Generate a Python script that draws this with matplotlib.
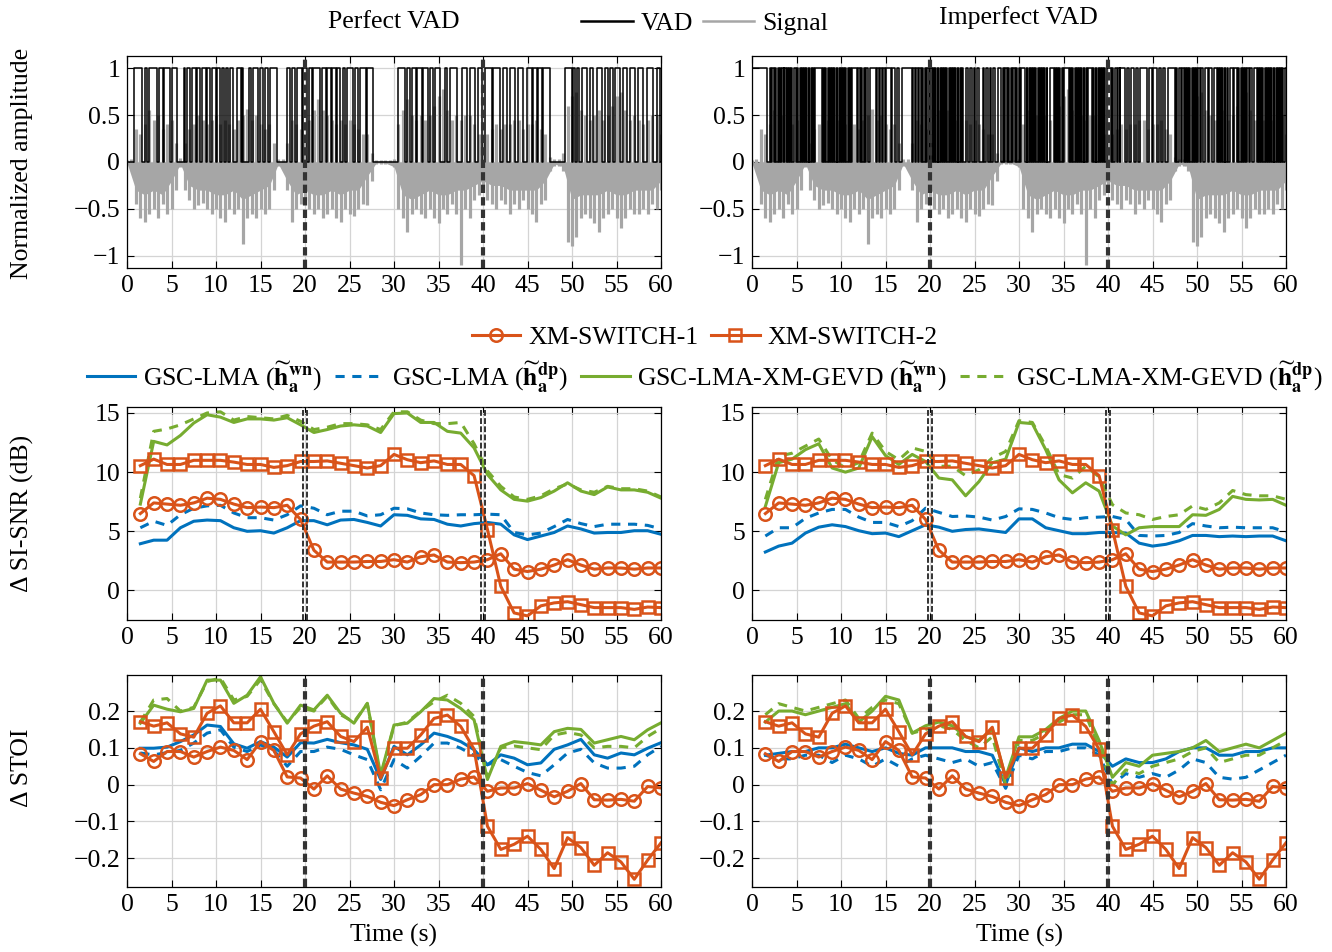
import numpy as np
import matplotlib
matplotlib.use("Agg")
import matplotlib.pyplot as plt
from matplotlib.lines import Line2D

plt.rcParams['font.family'] = ['Liberation Serif', 'DejaVu Serif']
plt.rcParams['mathtext.fontset'] = 'stix'
plt.rcParams['font.size'] = 18.5
plt.rcParams['axes.unicode_minus'] = True
FS = 18.5

# ---------------- data ----------------
# signal envelope every 0.5 s (0..60 s)
sig_neg = [-0.02, -0.03, -0.45, -0.6, -0.64, -0.55, -0.5, -0.6, -0.45, -0.55,
           -0.5, -0.3, -0.05, -0.3, -0.4, -0.5, -0.46, -0.44, -0.5, -0.55,
           -0.5, -0.6, -0.64, -0.5, -0.55, -0.5, -0.87, -0.6, -0.55, -0.6,
           -0.5, -0.55, -0.5, -0.3, -0.04, -0.04, -0.3, -0.64, -0.5, -0.45,
           -0.4, -0.5, -0.55, -0.5, -0.6, -0.55, -0.5, -0.6, -0.64, -0.5,
           -0.55, -0.58, -0.5, -0.45, -0.46, -0.2, -0.02, -0.02, -0.02, -0.02,
           -0.05, -0.5, -0.6, -0.75, -0.55, -0.5, -0.55, -0.6, -0.5, -0.6,
           -0.65, -0.5, -0.55, -0.45, -0.55, -1.1, -0.5, -0.6, -0.4, -0.35,
           -0.3, -0.4, -0.45, -0.5, -0.4, -0.45, -0.55, -0.45, -0.5, -0.4,
           -0.5, -0.55, -0.64, -0.45, -0.4, -0.1, -0.04, -0.04, -0.1, -0.85,
           -0.9, -0.8, -0.6, -0.55, -0.6, -0.65, -0.75, -0.6, -0.55, -0.5,
           -0.6, -0.7, -0.6, -0.5, -0.55, -0.55, -0.5, -0.55, -0.45, -0.5, -0.3]
sig_pos = [0.02, 0.03, 0.35, 0.3, 0.4, 0.55, 0.45, 0.5, 0.35, 0.4,
           0.45, 0.2, 0.04, 0.2, 0.35, 0.4, 0.5, 0.45, 0.4, 0.45,
           0.5, 0.4, 0.45, 0.4, 0.35, 0.45, 0.5, 0.56, 0.45, 0.5,
           0.4, 0.35, 0.4, 0.2, 0.03, 0.03, 0.2, 0.45, 0.4, 0.35,
           0.3, 0.45, 0.55, 0.67, 0.55, 0.5, 0.45, 0.4, 0.45, 0.4,
           0.45, 0.4, 0.35, 0.3, 0.3, 0.1, 0.02, 0.02, 0.02, 0.02,
           0.03, 0.4, 0.55, 0.67, 0.5, 0.45, 0.5, 0.45, 0.5, 0.6,
           0.7, 0.78, 0.55, 0.45, 0.5, 0.45, 0.5, 0.5, 0.4, 0.3,
           0.25, 0.3, 0.35, 0.4, 0.35, 0.4, 0.4, 0.45, 0.45, 0.35,
           0.4, 0.4, 0.45, 0.35, 0.3, 0.05, 0.03, 0.03, 0.1, 0.6,
           0.7, 0.75, 0.55, 0.5, 0.45, 0.5, 0.55, 0.45, 0.5, 0.6,
           0.7, 0.75, 0.55, 0.45, 0.5, 0.45, 0.4, 0.45, 0.5, 0.5, 0.3]
# dense part of the waveform every 1 s (0..60 s)
sig_body_neg = [-0.01, -0.3, -0.35, -0.3, -0.35, -0.2, -0.02, -0.25, -0.3, -0.3,
                -0.35, -0.35, -0.3, -0.4, -0.35, -0.3, -0.25, -0.02, -0.2, -0.35,
                -0.3, -0.35, -0.35, -0.3, -0.35, -0.3, -0.3, -0.15, -0.01, -0.01,
                -0.05, -0.35, -0.4, -0.35, -0.3, -0.35, -0.35, -0.3, -0.3, -0.25,
                -0.2, -0.25, -0.25, -0.3, -0.3, -0.3, -0.3, -0.2, -0.02, -0.05,
                -0.4, -0.35, -0.35, -0.35, -0.3, -0.35, -0.35, -0.3, -0.3, -0.3, -0.2]
sig_t = np.arange(len(sig_neg)) * 0.5
body_t = np.arange(len(sig_body_neg)) * 1.0

# VAD switching times (s), first entry switches on
vad_perfect = [0.78, 1.64, 2.02, 2.21, 2.51, 3.40, 3.63, 4.0, 4.15, 4.83, 5.02, 5.58,
               6.4, 6.55, 6.7, 7.08, 7.26, 7.75, 7.9, 8.2, 8.39, 8.87, 9.02, 9.32,
               9.51, 9.99, 10.14, 10.45, 10.63, 10.9, 11.12, 11.38, 11.57, 11.94,
               12.32, 12.77, 12.88, 13.07, 13.74, 13.89, 14.12, 14.75, 14.94, 15.31,
               15.5, 15.88, 16.06, 16.81, 17.94, 18.31, 18.5, 18.87, 19.06, 19.62,
               19.81, 20.26, 20.48, 20.75, 20.93, 21.68, 21.87, 22.36, 22.51, 22.88,
               23.07, 23.48, 23.63, 23.93, 24.23, 24.49, 24.68, 25.43, 25.61, 25.99,
               26.18, 26.85, 27.0, 27.67,
               30.4, 31.24, 31.42, 31.8, 31.98, 32.47, 32.62, 33.11, 33.3, 33.86,
               34.04, 34.34, 34.61, 35.17, 35.73, 35.92, 36.29, 37.04, 37.6, 38.24,
               38.54, 39.1, 39.48, 39.85, 40.22, 40.97, 41.16, 41.91, 42.28, 42.66,
               43.03, 43.6, 43.97, 44.53, 44.91, 45.47, 45.65, 46.03, 46.22, 46.59,
               46.78, 47.53, 49.21, 49.96, 50.15, 50.34, 50.52, 50.82, 51.08, 51.65,
               52.02, 52.4, 52.77, 53.33, 53.71, 54.08, 54.27, 54.57, 54.83, 55.39,
               55.77, 56.14, 56.52, 57.08, 57.45, 58.02, 58.39, 59.14, 59.51, 59.89]
vad_imperfect = [0.0, 1.65,
                 2.0, 2.15, 2.3, 2.5, 2.6, 2.75, 2.9, 3.05, 3.15, 3.3, 3.4, 3.55, 3.65,
                 3.8, 3.9, 4.05, 4.15, 4.3, 4.4, 4.5, 4.75, 4.9, 5.05,
                 5.2, 5.35, 5.45, 5.6, 5.7, 5.85, 5.95, 6.1, 6.2, 6.35, 6.45, 6.6,
                 6.7, 6.85, 6.95, 7.1,
                 7.85, 8.0, 8.1, 8.25, 8.35, 8.5, 8.6, 8.75, 8.85, 9.0, 9.1, 9.25,
                 9.35, 9.5, 9.6, 9.75, 9.85, 10.0, 10.1, 10.25, 10.35, 10.5, 10.6, 10.75,
                 10.85, 11.0, 11.1, 11.2,
                 11.75, 11.9, 12.1, 12.25, 12.4, 12.55, 12.7, 12.85, 13.0, 13.3,
                 13.9, 14.1, 14.25, 14.4, 14.6, 14.75, 14.9, 15.05,
                 15.6, 15.75, 16.1, 16.25, 16.5, 16.8,
                 17.95, 18.1, 18.3, 18.45, 18.6, 18.75,
                 19.0, 19.1, 19.25, 19.4, 19.55, 19.7, 19.85, 20.0,
                 20.2, 20.35, 20.45, 20.6, 20.7, 20.85, 20.95, 21.1, 21.2, 21.35,
                 21.45, 21.6, 21.7, 21.85, 21.95, 22.1, 22.2, 22.35, 22.45, 22.6,
                 22.7, 22.85, 22.95, 23.1, 23.2, 23.35, 23.45, 23.6, 23.7, 24.0,
                 24.3, 24.5, 24.7, 24.9, 25.1, 25.3, 25.5, 25.9,
                 26.1, 26.3, 26.5, 26.7, 26.9, 27.1, 27.3, 27.6,
                 28.0, 28.15, 28.3, 28.45, 28.6, 28.75, 28.9, 29.05, 29.2, 29.35, 29.5,
                 29.65, 29.8, 29.95, 30.1, 30.25,
                 30.7, 30.85, 30.95, 31.1, 31.2, 31.35, 31.45, 31.6, 31.7, 31.85,
                 31.95, 32.1, 32.2, 32.35, 32.45, 32.6, 32.7, 32.85, 32.95, 33.1,
                 33.2, 33.5,
                 33.9, 34.05, 34.15, 34.3, 34.4, 34.55, 34.65, 34.8, 34.9, 35.05,
                 35.6, 35.75, 35.85, 36.0, 36.1, 36.25, 36.35, 36.5, 36.6, 36.75,
                 36.85, 37.0, 37.1, 37.25, 37.35, 37.5, 37.6, 37.75,
                 38.2, 38.35, 38.45, 38.6, 38.7, 38.85, 38.95, 39.1, 39.2, 39.35,
                 39.45, 39.6, 39.7, 39.9,
                 40.3, 40.45, 40.6, 40.8, 41.0, 41.15, 41.3, 41.4, 41.9, 42.1, 42.4, 42.6,
                 42.9, 43.1, 43.4, 43.6, 44.4, 44.6, 44.9, 45.1, 45.5, 45.7, 46.0, 46.2,
                 46.4, 46.7,
                 47.5, 47.65, 47.8, 48.0, 48.2, 48.35, 48.5, 48.65, 48.75, 48.9,
                 49.0, 49.15, 49.25, 49.4, 49.5, 49.65, 49.75, 49.9, 50.0, 50.15,
                 50.3, 50.5, 50.7, 50.9, 51.2, 51.4, 51.7, 51.9,
                 52.2, 52.35, 52.45, 52.6, 52.7, 52.85, 52.95, 53.1, 53.2, 53.35,
                 53.5, 53.7, 54.0, 54.2,
                 54.5, 54.65, 54.75, 54.9, 55.0, 55.15, 55.25, 55.4, 55.5, 55.65,
                 55.8, 56.0, 56.2, 56.4,
                 56.7, 56.85, 56.95, 57.1, 57.2, 57.35, 57.45, 57.6, 57.7, 57.85,
                 57.95, 58.1, 58.2, 58.35, 58.45, 58.6, 58.7, 58.85, 58.95, 59.1,
                 59.2, 59.35, 59.45, 59.6, 59.7, 59.85]

# evaluation frames (s)
t_eval = np.arange(1, 41) * 1.5

# Delta SI-SNR (dB)
snr_sw1 = [6.5, 7.4, 7.3, 7.2, 7.4, 7.8, 7.7, 7.3, 7.0, 7.05, 7.0, 7.2, 6.0, 3.4, 2.4, 2.4, 2.4, 2.45, 2.45, 2.6,
           2.4, 2.85, 3.0, 2.4, 2.35, 2.4, 2.6, 3.1, 1.8, 1.6, 1.8, 2.15, 2.6, 2.15, 1.8, 1.9, 1.9, 1.8, 1.9, 1.9]
snr_sw2 = [10.55, 11.1, 10.65, 10.65, 11.0, 11.0, 11.0, 10.85, 10.65, 10.65, 10.4, 10.55, 10.9, 10.9, 10.95,
           10.75, 10.55, 10.35, 10.55, 11.5, 11.05, 10.8, 10.95, 10.65, 10.65, 9.7, 5.15, 0.35, -1.9, -2.15,
           -1.3, -1.05, -0.95, -1.2, -1.45, -1.45, -1.45, -1.6, -1.4, -1.45]
snr_gsc_wn_p = [3.95, 4.25, 4.25, 5.3, 5.85, 5.95, 5.9, 5.3, 5.0, 5.05, 4.85, 5.3, 5.9, 5.9, 5.55, 5.95, 6.0, 5.75,
                5.45, 6.4, 6.35, 6.05, 6.0, 5.6, 5.45, 5.65, 5.75, 5.6, 4.7, 4.3, 4.6, 4.9, 5.45, 5.2, 4.85, 4.9,
                4.9, 5.05, 5.05, 4.75]
snr_gsc_dp_p = [5.3, 5.85, 5.5, 6.4, 6.95, 7.15, 7.2, 6.55, 6.15, 6.15, 5.95, 6.4, 7.15, 6.95, 6.4, 6.7, 6.7, 6.3,
                6.4, 6.95, 6.9, 6.55, 6.4, 6.35, 6.4, 6.4, 6.45, 6.4, 4.9, 4.7, 4.85, 5.4, 6.0, 5.65, 5.4, 5.6,
                5.6, 5.6, 5.5, 5.2]
snr_xm_wn_p = [7.3, 12.6, 12.3, 13.1, 14.15, 14.85, 14.65, 14.2, 14.5, 14.5, 14.4, 14.6, 14.0, 13.35, 13.6, 13.9,
               14.0, 13.9, 13.35, 14.95, 15.0, 14.2, 14.2, 13.45, 13.3, 12.05, 9.8, 8.5, 7.7, 7.55, 7.85, 8.4,
               9.1, 8.4, 8.1, 8.75, 8.5, 8.5, 8.3, 7.8]
snr_xm_dp_p = [7.8, 13.45, 13.65, 14.0, 14.5, 15.0, 15.1, 14.4, 14.7, 14.6, 14.5, 14.8, 14.3, 13.6, 13.8, 14.1,
               14.1, 14.0, 13.6, 15.1, 15.1, 14.4, 14.1, 14.1, 14.2, 12.4, 10.1, 8.8, 7.9, 7.7, 8.0, 8.6, 9.0,
               8.5, 8.3, 8.8, 8.6, 8.6, 8.4, 7.9]
snr_gsc_wn_i = [3.25, 3.75, 4.0, 4.85, 5.35, 5.55, 5.4, 5.05, 4.8, 4.85, 4.55, 5.05, 5.55, 5.35, 5.0, 5.15, 5.2,
                5.05, 4.9, 6.05, 6.05, 5.3, 5.05, 4.8, 4.8, 4.9, 4.9, 4.85, 4.0, 3.75, 3.9, 4.2, 4.65, 4.65, 4.55,
                4.6, 4.55, 4.6, 4.6, 4.2]
snr_gsc_dp_i = [4.6, 5.3, 5.3, 6.1, 6.55, 6.85, 6.85, 6.2, 5.75, 5.75, 5.4, 5.9, 6.95, 6.6, 6.25, 6.3, 6.2, 5.95,
                6.25, 6.9, 6.85, 6.55, 6.15, 6.0, 6.15, 6.2, 6.25, 6.0, 4.65, 4.6, 4.65, 4.9, 5.65, 5.45, 5.3,
                5.35, 5.3, 5.3, 5.3, 4.95]
snr_xm_wn_i = [7.1, 10.8, 11.1, 11.9, 12.4, 10.35, 10.0, 10.35, 13.0, 11.4, 10.65, 11.5, 10.9, 9.5, 9.35, 8.0,
               9.2, 10.8, 11.1, 14.2, 14.1, 11.9, 9.35, 8.25, 9.1, 8.4, 5.45, 4.7, 5.3, 5.4, 5.4, 5.4, 6.4, 6.35,
               6.85, 7.95, 7.7, 7.65, 7.7, 7.2]
snr_xm_dp_i = [7.7, 11.35, 11.6, 12.2, 12.8, 11.05, 10.35, 10.8, 13.3, 11.75, 11.05, 12.05, 11.75, 10.5, 10.5,
               9.7, 10.2, 11.2, 11.75, 14.35, 14.2, 12.2, 9.8, 9.5, 10.5, 9.6, 7.25, 6.55, 6.4, 6.0, 6.25, 6.4,
               7.15, 6.85, 7.4, 8.45, 8.1, 8.0, 8.0, 7.7]

# Delta STOI
stoi_sw1 = [0.084, 0.063, 0.09, 0.09, 0.075, 0.09, 0.102, 0.093, 0.068, 0.117, 0.093, 0.021, 0.018, -0.012,
            0.024, -0.012, -0.023, -0.032, -0.048, -0.057, -0.041, -0.027, 0.0, 0.0, 0.015, 0.021, -0.018,
            -0.009, -0.009, 0.003, -0.015, -0.033, -0.018, 0.003, -0.041, -0.042, -0.04, -0.045, -0.005, -0.009]
stoi_sw2 = [0.171, 0.159, 0.168, 0.138, 0.129, 0.194, 0.214, 0.168, 0.168, 0.205, 0.144, 0.081, 0.138, 0.159,
            0.171, 0.131, 0.117, 0.156, 0.018, 0.099, 0.099, 0.135, 0.18, 0.189, 0.158, 0.096, -0.113, -0.176,
            -0.162, -0.14, -0.176, -0.228, -0.144, -0.171, -0.219, -0.185, -0.21, -0.257, -0.205, -0.158]
stoi_gsc_wn_p = [0.099, 0.099, 0.102, 0.117, 0.135, 0.162, 0.158, 0.111, 0.099, 0.117, 0.102, 0.075, 0.114,
                 0.113, 0.123, 0.114, 0.108, 0.096, 0.014, 0.104, 0.081, 0.108, 0.14, 0.131, 0.117, 0.095, 0.054,
                 0.081, 0.072, 0.054, 0.059, 0.096, 0.108, 0.123, 0.081, 0.072, 0.086, 0.081, 0.099, 0.114]
stoi_gsc_dp_p = [0.086, 0.081, 0.087, 0.093, 0.113, 0.14, 0.149, 0.102, 0.09, 0.108, 0.093, 0.05, 0.09, 0.09,
                 0.102, 0.096, 0.081, 0.068, -0.014, 0.068, 0.045, 0.077, 0.113, 0.113, 0.099, 0.079, 0.054,
                 0.068, 0.05, 0.033, 0.024, 0.054, 0.086, 0.096, 0.059, 0.045, 0.045, 0.05, 0.081, 0.104]
stoi_xm_wn_p = [0.167, 0.216, 0.205, 0.198, 0.207, 0.284, 0.284, 0.221, 0.243, 0.293, 0.221, 0.167, 0.216,
                0.203, 0.243, 0.194, 0.167, 0.221, 0.027, 0.162, 0.167, 0.198, 0.234, 0.23, 0.207, 0.176, 0.014,
                0.104, 0.117, 0.113, 0.108, 0.144, 0.153, 0.15, 0.113, 0.122, 0.131, 0.122, 0.149, 0.168]
stoi_xm_dp_p = [0.17, 0.23, 0.234, 0.2, 0.21, 0.28, 0.29, 0.23, 0.24, 0.285, 0.22, 0.17, 0.21, 0.2, 0.24, 0.19,
                0.17, 0.22, 0.02, 0.16, 0.17, 0.2, 0.225, 0.243, 0.221, 0.185, 0.02, 0.1, 0.105, 0.1, 0.095,
                0.135, 0.142, 0.135, 0.1, 0.104, 0.104, 0.1, 0.131, 0.153]
stoi_gsc_wn_i = [0.08, 0.085, 0.09, 0.09, 0.1, 0.1, 0.11, 0.1, 0.09, 0.1, 0.085, 0.08, 0.1, 0.1, 0.1, 0.09,
                 0.09, 0.08, 0.0, 0.1, 0.09, 0.1, 0.1, 0.11, 0.11, 0.09, 0.05, 0.07, 0.06, 0.06, 0.07, 0.09, 0.1,
                 0.1, 0.08, 0.08, 0.09, 0.09, 0.1, 0.1]
stoi_gsc_dp_i = [0.08, 0.07, 0.07, 0.08, 0.08, 0.06, 0.08, 0.07, 0.05, 0.07, 0.05, 0.07, 0.08, 0.07, 0.06, 0.07,
                 0.05, 0.06, -0.01, 0.08, 0.07, 0.09, 0.09, 0.1, 0.1, 0.08, 0.0, 0.03, 0.02, 0.03, 0.02, 0.04,
                 0.07, 0.06, 0.02, 0.015, 0.02, 0.04, 0.06, 0.08]
stoi_xm_wn_i = [0.17, 0.2, 0.2, 0.19, 0.2, 0.21, 0.22, 0.17, 0.2, 0.24, 0.23, 0.14, 0.16, 0.17, 0.16, 0.13,
                0.12, 0.15, 0.02, 0.13, 0.13, 0.15, 0.18, 0.2, 0.2, 0.12, 0.02, 0.06, 0.05, 0.08, 0.085, 0.09,
                0.1, 0.12, 0.09, 0.1, 0.11, 0.1, 0.12, 0.14]
stoi_xm_dp_i = [0.19, 0.22, 0.21, 0.2, 0.21, 0.22, 0.23, 0.18, 0.21, 0.23, 0.22, 0.14, 0.15, 0.16, 0.15, 0.12,
                0.1, 0.13, 0.0, 0.12, 0.12, 0.14, 0.17, 0.19, 0.19, 0.1, 0.0, 0.04, 0.03, 0.05, 0.06, 0.07, 0.09,
                0.1, 0.06, 0.07, 0.08, 0.08, 0.1, 0.12]

switch_times = [20, 40]

# ---------------- styles ----------------
c_blue = '#0072BD'
c_orange = '#D95319'
c_green = '#77AC30'
c_sig = '#a6a6a6'
lab_wn = r'$\widetilde{\mathbf{h}}_{\mathbf{a}}^{\mathbf{wn}}$'
lab_dp = r'$\widetilde{\mathbf{h}}_{\mathbf{a}}^{\mathbf{dp}}$'


def vad_xy(switches):
    xs, ys = [0.0], [0.0]
    level = 0.0
    for s in switches:
        xs += [s, s]
        ys += [level, 1.0 - level]
        level = 1.0 - level
    xs.append(60.0)
    ys.append(level)
    return xs, ys


def style_axes(ax, ylim, yticks):
    ax.set_xlim(0, 60)
    ax.set_ylim(*ylim)
    ax.set_xticks(np.arange(0, 61, 5))
    ax.set_yticks(yticks)
    ax.grid(True, color='#d4d4d4', linewidth=0.9)
    ax.set_axisbelow(True)
    ax.tick_params(direction='in', length=5, width=0.8, top=True, right=True, labelsize=FS, pad=5)
    for sp in ax.spines.values():
        sp.set_linewidth(0.9)


fig = plt.figure(figsize=(13.32, 9.52), dpi=100)
lefts = [127 / 1332, 752 / 1332]
w = 534 / 1332
ax_top = [fig.add_axes([l, 0.7185, w, 0.2227]) for l in lefts]
ax_mid = [fig.add_axes([l, 0.3487, w, 0.2237]) for l in lefts]
ax_bot = [fig.add_axes([l, 0.0683, w, 0.2227]) for l in lefts]

# top row: signal + VAD
for ax, vad in zip(ax_top, [vad_perfect, vad_imperfect]):
    ax.fill_between(body_t, sig_body_neg, 0, color=c_sig, linewidth=0, zorder=2)
    ax.vlines(sig_t, sig_neg, sig_pos, color=c_sig, linewidth=2.3, zorder=2)
    vx, vy = vad_xy(vad)
    ax.plot(vx, vy, color='black', linewidth=1.1, zorder=3)
    for st in switch_times:
        ax.axvline(st, color='#333333', linewidth=3.0, linestyle=(0, (2.0, 1.0)), zorder=4)
    style_axes(ax, (-1.13, 1.13), [-1, -0.5, 0, 0.5, 1])
    ax.set_yticklabels(['\u22121', '\u22120.5', '0', '0.5', '1'])

snr_sets = [(snr_gsc_wn_p, snr_gsc_dp_p, snr_xm_wn_p, snr_xm_dp_p),
            (snr_gsc_wn_i, snr_gsc_dp_i, snr_xm_wn_i, snr_xm_dp_i)]
stoi_sets = [(stoi_gsc_wn_p, stoi_gsc_dp_p, stoi_xm_wn_p, stoi_xm_dp_p),
             (stoi_gsc_wn_i, stoi_gsc_dp_i, stoi_xm_wn_i, stoi_xm_dp_i)]

handles = None
for row_axes, sets, sw1, sw2, lim, ticks, double in [
        (ax_mid, snr_sets, snr_sw1, snr_sw2, (-2.5, 15.5), [0, 5, 10, 15], True),
        (ax_bot, stoi_sets, stoi_sw1, stoi_sw2, (-0.278, 0.298), [-0.2, -0.1, 0, 0.1, 0.2], False)]:
    for ax, (g_wn, g_dp, x_wn, x_dp) in zip(row_axes, sets):
        l1, = ax.plot(t_eval, g_wn, color=c_blue, linewidth=2.2, label='GSC-LMA (' + lab_wn + ')')
        l2, = ax.plot(t_eval, g_dp, color=c_blue, linewidth=2.2, linestyle=(0, (3, 2.5)),
                      label='GSC-LMA (' + lab_dp + ')')
        l3, = ax.plot(t_eval, x_wn, color=c_green, linewidth=2.2, label='GSC-LMA-XM-GEVD (' + lab_wn + ')')
        l4, = ax.plot(t_eval, x_dp, color=c_green, linewidth=2.2, linestyle=(0, (3, 2.5)),
                      label='GSC-LMA-XM-GEVD (' + lab_dp + ')')
        l5, = ax.plot(t_eval, sw1, color=c_orange, linewidth=2.2, marker='o', markersize=9,
                      markerfacecolor='none', markeredgewidth=1.8, label='XM-SWITCH-1')
        l6, = ax.plot(t_eval, sw2, color=c_orange, linewidth=2.2, marker='s', markersize=9,
                      markerfacecolor='none', markeredgewidth=1.8, label='XM-SWITCH-2')
        if handles is None:
            handles = [l1, l2, l3, l4, l5, l6]
        for st in switch_times:
            if double:
                ax.axvline(st - 0.18, color='#333333', linewidth=1.4, linestyle=(0, (3.0, 1.2)), zorder=4)
                ax.axvline(st + 0.18, color='#333333', linewidth=1.4, linestyle=(0, (3.0, 1.2)), zorder=4)
            else:
                ax.axvline(st, color='#333333', linewidth=3.0, linestyle=(0, (2.0, 1.0)), zorder=4)
        style_axes(ax, lim, ticks)

for ax in ax_bot:
    ax.set_yticklabels(['\u22120.2', '\u22120.1', '0', '0.1', '0.2'])
    ax.set_xlabel('Time (s)', fontsize=FS, labelpad=6)

# labels and titles
fig.text(22 / 1332, 1 - 163 / 952, 'Normalized amplitude', rotation=90, ha='center', va='center', fontsize=FS)
fig.text(22 / 1332, 1 - 513 / 952, '\u0394 SI-SNR (dB)', rotation=90, ha='center', va='center', fontsize=FS)
fig.text(22 / 1332, 1 - 768 / 952, '\u0394 STOI', rotation=90, ha='center', va='center', fontsize=FS)
fig.text(394 / 1332, 1 - 22 / 952, 'Perfect VAD', ha='center', va='center', fontsize=FS)
fig.text(1018 / 1332, 1 - 18 / 952, 'Imperfect VAD', ha='center', va='center', fontsize=FS)

# legends
top_handles = [Line2D([], [], color='black', linewidth=1.8, label='VAD'),
               Line2D([], [], color=c_sig, linewidth=1.8, label='Signal')]
fig.legend(handles=top_handles, loc='center', bbox_to_anchor=(0.529, 0.975), ncol=2, frameon=False,
           fontsize=FS, handlelength=2.0, handletextpad=0.3, columnspacing=0.4, borderpad=0)
fig.legend(handles=handles[4:], loc='center', bbox_to_anchor=(0.529, 0.645), ncol=2, frameon=False,
           fontsize=FS, handlelength=1.9, handletextpad=0.3, columnspacing=0.5, borderpad=0)
fig.legend(handles=handles[:4], loc='center', bbox_to_anchor=(0.529, 0.604), ncol=4, frameon=False,
           fontsize=FS, handlelength=1.9, handletextpad=0.3, columnspacing=0.5, borderpad=0)

fig.savefig('out.png', dpi=100)
